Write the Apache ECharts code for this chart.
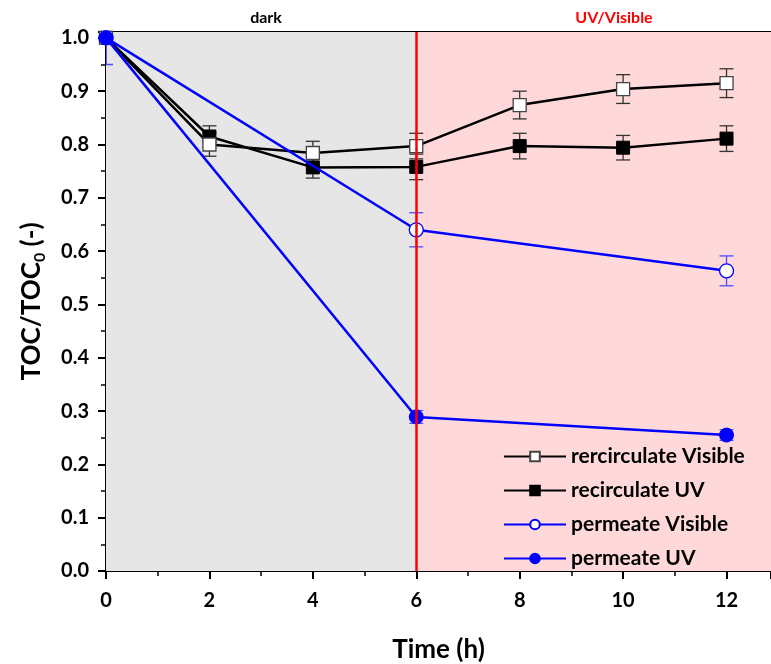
<!DOCTYPE html>
<html>
<head>
<meta charset="utf-8">
<script src="https://cdn.jsdelivr.net/npm/echarts@6/dist/echarts.min.js"></script>
<style>html,body{margin:0;padding:0;background:#fff}#c{width:771px;height:664px}</style>
</head>
<body>
<div id="c"></div>
<script>
const xTime = [0, 2, 4, 6, 8, 10, 12];
const recVisible = [1.0, 0.800, 0.784, 0.797, 0.874, 0.904, 0.915];
const recVisibleErr = [0, 0.022, 0.022, 0.024, 0.026, 0.027, 0.027];
const recUV = [1.0, 0.815, 0.757, 0.758, 0.797, 0.794, 0.811];
const recUVErr = [0, 0.020, 0.020, 0.024, 0.024, 0.023, 0.024];
const permTime = [0, 6, 12];
const permVisible = [1.0, 0.640, 0.563];
const permVisibleErr = [0.05, 0.032, 0.028];
const permUV = [1.0, 0.289, 0.255];
const permUVErr = [0.05, 0.012, 0.010];
const seriesNames = ['rercirculate Visible', 'recirculate UV', 'permeate Visible', 'permeate UV'];
const xTicks = [0, 2, 4, 6, 8, 10, 12];
const yTicks = [0.0, 0.1, 0.2, 0.3, 0.4, 0.5, 0.6, 0.7, 0.8, 0.9, 1.0];
const phaseBoundary = 6;
const xMax = 12.86;
const yMax = 1.011;

const FONT = 'Lato';
const pairs = (xs, ys) => xs.map((x, i) => [x, ys[i]]);
const errData = (xs, ys, es) => xs.map((x, i) => [x, ys[i], es[i]]);

function errSeries(data, color) {
  return {
    type: 'custom', z: 1, clip: true, silent: true,
    data: data,
    renderItem: function (params, api) {
      const x = api.value(0), y = api.value(1), e = api.value(2);
      if (!e) return null;
      const lo = api.coord([x, y - e]);
      const hi = api.coord([x, y + e]);
      const w = 7;
      const st = { stroke: color, lineWidth: 1.3 };
      return { type: 'group', children: [
        { type: 'line', shape: { x1: lo[0], y1: lo[1], x2: hi[0], y2: hi[1] }, style: st },
        { type: 'line', shape: { x1: lo[0] - w, y1: lo[1], x2: lo[0] + w, y2: lo[1] }, style: st },
        { type: 'line', shape: { x1: hi[0] - w, y1: hi[1], x2: hi[0] + w, y2: hi[1] }, style: st }
      ]};
    }
  };
}

const chart = echarts.init(document.getElementById('c'));
chart.setOption({
  animation: false,
  backgroundColor: '#fff',
  grid: { left: 106, top: 32, right: 0, bottom: 93, containLabel: false, outerBoundsMode: 'none' },
  xAxis: [{
    type: 'value', min: 0, max: xMax, interval: 2,
    name: 'Time (h)', nameLocation: 'middle', nameGap: 66,
    nameTextStyle: { fontFamily: FONT, fontWeight: 'bold', fontSize: 26, color: '#000' },
    axisLine: { show: true, lineStyle: { color: '#000', width: 2 } },
    axisTick: { show: true, inside: false, length: 8, lineStyle: { color: '#000', width: 2 } },
    minorTick: { show: true, splitNumber: 2, length: 5, lineStyle: { color: '#000', width: 1.5 } },
    axisLabel: { fontFamily: FONT, fontWeight: 'bold', fontSize: 20, color: '#000', margin: 20,
      formatter: v => xTicks.indexOf(v) >= 0 ? String(v) : '' },
    splitLine: { show: false }, minorSplitLine: { show: false }
  }, {
    type: 'value', position: 'top', min: 0, max: xMax,
    axisLine: { show: true, onZero: false, lineStyle: { color: '#000', width: 2 } },
    axisTick: { show: false }, axisLabel: { show: false }, splitLine: { show: false }
  }],
  yAxis: {
    type: 'value', min: 0, max: yMax, interval: 0.1,
    name: '{a|TOC/TOC}{s|0}{a| (-)}', nameLocation: 'middle', nameGap: 58, nameRotate: 90,
    nameTextStyle: { rich: {
      a: { fontFamily: FONT, fontWeight: 'bold', fontSize: 26, color: '#000' },
      s: { fontFamily: FONT, fontWeight: 'bold', fontSize: 16, color: '#000', verticalAlign: 'bottom', padding: [16, 0, 0, 0] }
    } },
    axisLine: { show: true, lineStyle: { color: '#000', width: 2 } },
    axisTick: { show: true, inside: false, length: 8, lineStyle: { color: '#000', width: 2 } },
    minorTick: { show: true, splitNumber: 2, length: 5, lineStyle: { color: '#000', width: 1.5 } },
    axisLabel: { fontFamily: FONT, fontWeight: 'bold', fontSize: 20, color: '#000', margin: 17,
      formatter: v => yTicks.some(t => Math.abs(t - v) < 1e-6) ? v.toFixed(1) : '' },
    splitLine: { show: false }, minorSplitLine: { show: false }
  },
  legend: {
    data: seriesNames, orient: 'vertical', left: 498, top: 441,
    itemWidth: 62, itemHeight: 12, itemGap: 13,
    textStyle: { fontFamily: FONT, fontWeight: 'bold', fontSize: 21, color: '#000' },
    selectedMode: false
  },
  graphic: [
    { type: 'text', x: 266, y: 10, style: { text: 'dark', textAlign: 'center', fill: '#000', font: 'bold 16px Lato' } },
    { type: 'text', x: 614, y: 10, style: { text: 'UV/Visible', textAlign: 'center', fill: '#ff0000', font: 'bold 16px Lato' } }
  ],
  series: [
    {
      type: 'line', name: 'bg', data: [], z: 0, silent: true,
      markArea: { silent: true, data: [
        [{ xAxis: 0, itemStyle: { color: '#e6e6e6' } }, { xAxis: phaseBoundary }],
        [{ xAxis: phaseBoundary, itemStyle: { color: '#ffd9d9' } }, { xAxis: xMax }]
      ] },
      markLine: { silent: true, symbol: 'none', label: { show: false },
        lineStyle: { color: '#ff0000', width: 2.5, type: 'solid' },
        data: [{ xAxis: phaseBoundary }] }
    },
    errSeries(errData(xTime, recVisible, recVisibleErr), '#333'),
    errSeries(errData(xTime, recUV, recUVErr), '#333'),
    errSeries(errData(permTime, permVisible, permVisibleErr), '#4d4dff'),
    errSeries(errData(permTime, permUV, permUVErr), '#4d4dff'),
    {
      type: 'line', name: seriesNames[1], data: pairs(xTime, recUV), z: 3,
      symbol: 'rect', symbolSize: 13,
      lineStyle: { color: '#000', width: 2.5 },
      itemStyle: { color: '#000', borderColor: '#000', borderWidth: 1 }
    },
    {
      type: 'line', name: seriesNames[0], data: pairs(xTime, recVisible), z: 3,
      symbol: 'rect', symbolSize: 13,
      lineStyle: { color: '#000', width: 2.5 },
      itemStyle: { color: '#fff', borderColor: '#444', borderWidth: 1.3 }
    },
    {
      type: 'line', name: seriesNames[2], data: pairs(permTime, permVisible), z: 4,
      symbol: 'circle', symbolSize: 14,
      lineStyle: { color: '#0000ff', width: 2.5 },
      itemStyle: { color: '#fff', borderColor: '#0000ff', borderWidth: 1.3 }
    },
    {
      type: 'line', name: seriesNames[3], data: pairs(permTime, permUV), z: 4,
      symbol: 'circle', symbolSize: 14,
      lineStyle: { color: '#0000ff', width: 2.5 },
      itemStyle: { color: '#0000ff', borderColor: '#0000ff', borderWidth: 1 }
    }
  ]
});
</script>
</body>
</html>
